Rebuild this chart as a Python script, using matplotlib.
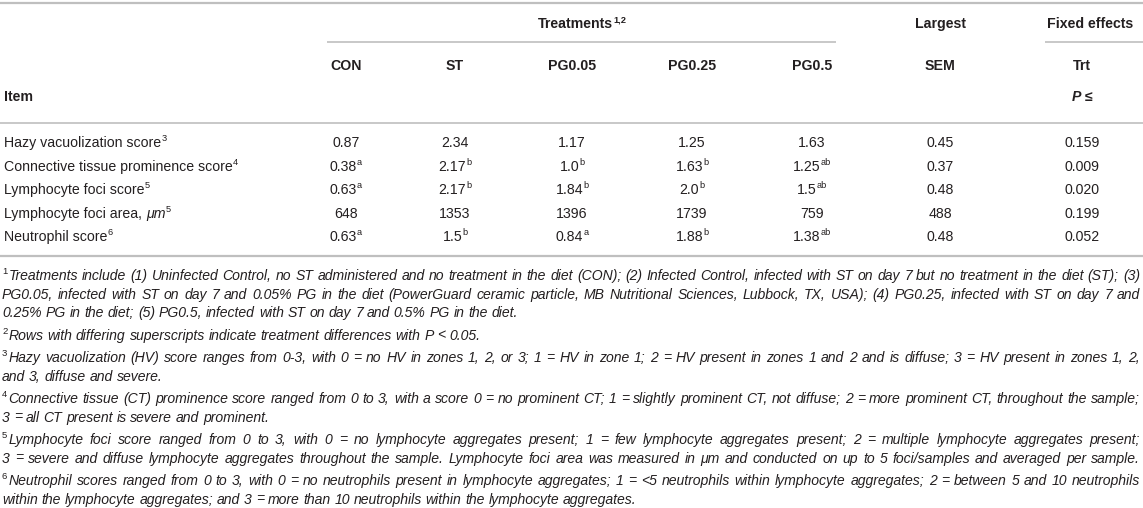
import matplotlib
matplotlib.use("Agg")
import matplotlib.pyplot as plt
from matplotlib.lines import Line2D

W, H = 1143, 508
FAM = ["Liberation Sans", "DejaVu Sans"]
TXT = "#231f20"
RULE = "#bfbfbf"

# ---------------- data ----------------
items = ["Hazy vacuolization score", "Connective tissue prominence score",
         "Lymphocyte foci score", "Lymphocyte foci area, ", "Neutrophil score"]
item_unit = ["", "", "", "μm", ""]
item_notes = ["3", "4", "5", "5", "6"]
treatments = ["CON", "ST", "PG0.05", "PG0.25", "PG0.5"]
con = ["0.87", "0.38", "0.63", "648", "0.63"]
con_sup = ["", "a", "a", "", "a"]
st = ["2.34", "2.17", "2.17", "1353", "1.5"]
st_sup = ["", "b", "b", "", "b"]
pg005 = ["1.17", "1.0", "1.84", "1396", "0.84"]
pg005_sup = ["", "b", "b", "", "a"]
pg025 = ["1.25", "1.63", "2.0", "1739", "1.88"]
pg025_sup = ["", "b", "b", "", "b"]
pg05 = ["1.63", "1.25", "1.5", "759", "1.38"]
pg05_sup = ["", "ab", "ab", "", "ab"]
sem = ["0.45", "0.37", "0.48", "488", "0.48"]
pval = ["0.159", "0.009", "0.020", "0.199", "0.052"]

footnotes = [
    ("1", "Treatments include (1) Uninfected Control, no ST administered and no treatment in the diet (CON); (2) Infected Control, infected with ST on day 7 but no treatment in the diet (ST); (3)", True),
    ("", "PG0.05, infected with ST on day 7 and 0.05% PG in the diet (PowerGuard ceramic particle, MB Nutritional Sciences, Lubbock, TX, USA); (4) PG0.25, infected with ST on day 7 and", True),
    ("", "0.25% PG in the diet; (5) PG0.5, infected with ST on day 7 and 0.5% PG in the diet.", False),
    ("2", "Rows with differing superscripts indicate treatment differences with P < 0.05.", False),
    ("3", "Hazy vacuolization (HV) score ranges from 0-3, with 0 = no HV in zones 1, 2, or 3; 1 = HV in zone 1; 2 = HV present in zones 1 and 2 and is diffuse; 3 = HV present in zones 1, 2,", True),
    ("", "and 3, diffuse and severe.", False),
    ("4", "Connective tissue (CT) prominence score ranged from 0 to 3, with a score 0 = no prominent CT; 1 = slightly prominent CT, not diffuse; 2 = more prominent CT, throughout the sample;", True),
    ("", "3 = all CT present is severe and prominent.", False),
    ("5", "Lymphocyte foci score ranged from 0 to 3, with 0 = no lymphocyte aggregates present; 1 = few lymphocyte aggregates present; 2 = multiple lymphocyte aggregates present;", True),
    ("", "3 = severe and diffuse lymphocyte aggregates throughout the sample. Lymphocyte foci area was measured in μm and conducted on up to 5 foci/samples and averaged per sample.", True),
    ("6", "Neutrophil scores ranged from 0 to 3, with 0 = no neutrophils present in lymphocyte aggregates; 1 = <5 neutrophils within lymphocyte aggregates; 2 = between 5 and 10 neutrophils", True),
    ("", "within the lymphocyte aggregates; and 3 = more than 10 neutrophils within the lymphocyte aggregates.", False),
]

# ---------------- layout ----------------
fig = plt.figure(figsize=(W / 100, H / 100), dpi=100)
fig.patch.set_facecolor("white")
R = fig.canvas.get_renderer()


def fx(x):
    return x / W


def fy(y):
    return 1 - y / H


def rule(x0, x1, y, lw):
    fig.add_artist(Line2D([fx(x0), fx(x1)], [fy(y), fy(y)], transform=fig.transFigure,
                          color=RULE, lw=lw, solid_capstyle="butt"))


def make(text, size, weight="normal", style="normal", color=TXT):
    t = fig.text(0, 0, text, fontsize=size, fontweight=weight, fontstyle=style,
                 family=FAM, color=color, va="baseline", ha="left")
    w = t.get_window_extent(R).width
    return t, w


def measure(text, size, weight="normal", style="normal"):
    t, w = make(text, size, weight, style)
    t.remove()
    return w


def draw_runs(x, yc, runs, size, ha="left", color=TXT):
    px = size * 100 / 72
    base = yc + 0.36 * px
    objs = []
    for text, sup, weight, style in runs:
        if text == "":
            continue
        s = size * 0.65 if sup else size
        t, w = make(text, s, weight, style, color)
        objs.append((t, w, sup))
    total = sum(w for _, w, _ in objs)
    x0 = x if ha == "left" else (x - total / 2 if ha == "center" else x - total)
    for t, w, sup in objs:
        yb = base - (0.40 * px if sup else 0)
        t.set_position((fx(x0), fy(yb)))
        x0 += w


# rules
rule(0, W, 3, 1.6)
rule(327, 836, 42, 1.2)
rule(1045, W, 42, 1.2)
rule(0, W, 123, 1.2)
rule(0, W, 256, 1.6)

HS = 10.2  # header / body size
col_x = [346, 455, 572, 692, 812]
sem_x = 940
p_x = 1082

# header
draw_runs(582, 23, [("Treatments", False, "bold", "normal"), ("1,2", True, "bold", "normal")], HS, "center")
draw_runs(sem_x, 23, [("Largest", False, "bold", "normal")], HS, "center")
draw_runs(1090, 23, [("Fixed effects", False, "bold", "normal")], HS, "center")
for x, name in zip(col_x, treatments):
    draw_runs(x, 65, [(name, False, "bold", "normal")], HS, "center")
draw_runs(sem_x, 65, [("SEM", False, "bold", "normal")], HS, "center")
draw_runs(p_x, 65, [("Trt", False, "bold", "normal")], HS, "center")
draw_runs(4, 96, [("Item", False, "bold", "normal")], HS, "left")
draw_runs(p_x, 96, [("P", False, "bold", "italic"), (" ≤", False, "bold", "normal")], HS, "center")

# body
row_y = [142, 165.5, 189, 212.5, 236]
cols = [(con, con_sup), (st, st_sup), (pg005, pg005_sup), (pg025, pg025_sup), (pg05, pg05_sup)]
for i, y in enumerate(row_y):
    draw_runs(4, y, [(items[i], False, "normal", "normal"), (item_unit[i], False, "normal", "italic"),
                     (item_notes[i], True, "normal", "normal")], HS, "left")
    for x, (vals, sups) in zip(col_x, cols):
        draw_runs(x, y, [(vals[i], False, "normal", "normal"), (sups[i], True, "normal", "normal")], HS, "center")
    draw_runs(sem_x, y, [(sem[i], False, "normal", "normal")], HS, "center")
    draw_runs(p_x, y, [(pval[i], False, "normal", "normal")], HS, "center")

# footnotes: pick size so the fullest justified line just fits
LEFT, RIGHT = 2, 1140
FS0 = 10.0
ratios = []
sw0 = measure("a a", FS0, style="italic") - measure("aa", FS0, style="italic")
for sup, text, just in footnotes:
    if not just:
        continue
    supw = measure(sup, FS0 * 0.65) + 1 if sup else 0
    words = text.split(" ")
    nat = sum(measure(wd, FS0, style="italic") for wd in words) + sw0 * (len(words) - 1)
    ratios.append((RIGHT - LEFT - supw) / nat)
FS = FS0 * min(ratios) * 0.995
fpx = FS * 100 / 72

gaps = [18.5, 18.5, 22.5, 22.5, 18.5, 22.5, 18.5, 22.5, 18.5, 22.5, 18.5]
fy_list = [275]
for g in gaps:
    fy_list.append(fy_list[-1] + g)

space_w = measure("a a", FS, style="italic") - measure("aa", FS, style="italic")

for (sup, text, just), y in zip(footnotes, fy_list):
    base = y + 0.36 * fpx
    x = LEFT
    if sup:
        t, w = make(sup, FS * 0.68, style="normal")
        t.set_position((fx(x), fy(base - 0.40 * fpx)))
        x += w + 1
    words = text.split(" ")
    objs = [make(wd, FS, style="italic") for wd in words]
    total = sum(w for _, w in objs)
    if just and len(objs) > 1:
        gap = (RIGHT - x - total) / (len(objs) - 1)
    else:
        gap = space_w
    for t, w in objs:
        t.set_position((fx(x), fy(base)))
        x += w + gap

fig.savefig("out.png", dpi=100, facecolor="white")
